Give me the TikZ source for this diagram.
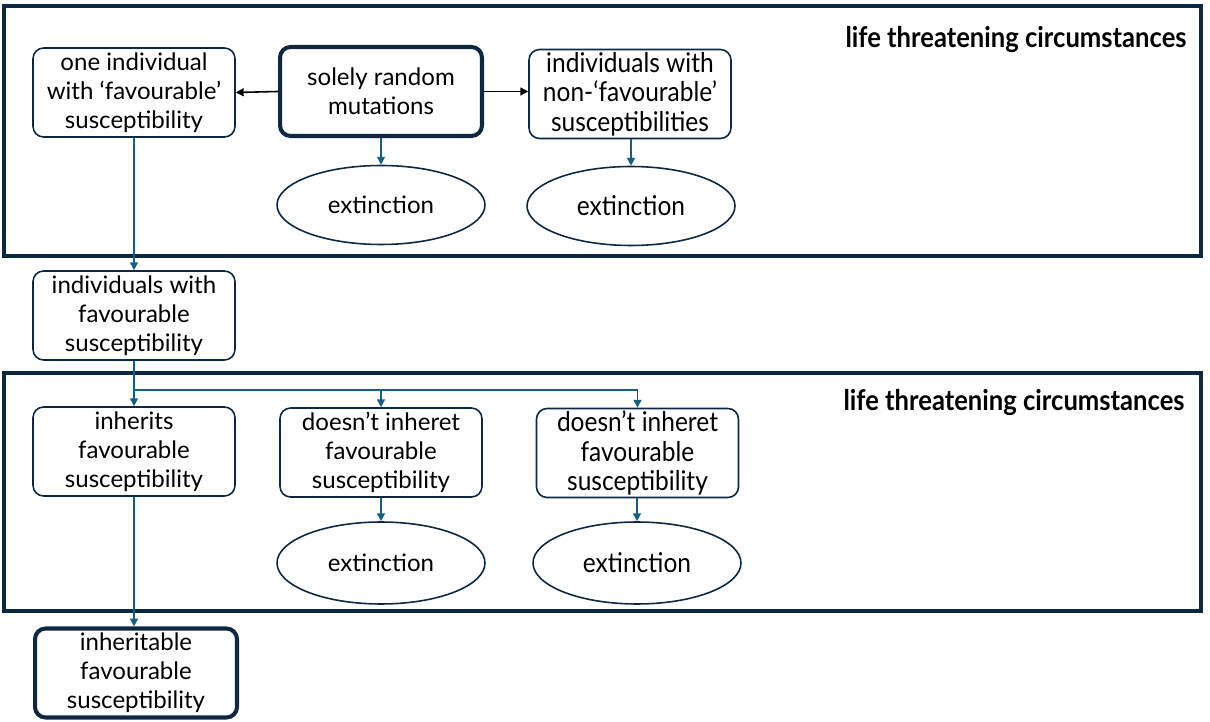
\documentclass[tikz,border=0pt]{standalone}
\usepackage{fontspec}
\setmainfont{Lato}
\newfontfamily\narrowfont[FakeStretch=0.9]{Lato}
\usetikzlibrary{arrows.meta,shapes.geometric}
\definecolor{navy}{HTML}{0E2841}
\definecolor{arrowblue}{HTML}{156082}
\tikzset{
  txt/.style={font=\fontsize{13.7}{16.5}\selectfont},
  ntxt/.style={font=\narrowfont\fontsize{15.5}{16.7}\selectfont},
  rbox/.style={draw=navy, line width=0.9pt, rounded corners=6pt, minimum width=4.04cm, minimum height=1.78cm, align=center, inner sep=0pt, text=black},
  rboxthick/.style={rbox, line width=2.3pt},
  oval/.style={draw=navy, line width=0.9pt, ellipse, minimum width=4.16cm, minimum height=1.58cm, inner sep=0pt, text=black},
  frame/.style={draw=navy, line width=2.4pt},
  blk/.style={draw=black, line width=0.9pt, -{Triangle[length=4.5pt,width=4.5pt]}},
  bl/.style={draw=arrowblue, line width=0.9pt, -{Triangle[length=4.5pt,width=4.5pt]}},
  lbl/.style={font=\narrowfont\bfseries\fontsize{16.2}{18}\selectfont, anchor=east, inner sep=0pt}
}
\begin{document}
\begin{tikzpicture}[x=0.02cm,y=-0.02cm]
\useasboundingbox (0,0) rectangle (1210,722);
\fill[white] (0,0) rectangle (1210,722);
% frames
\draw[frame] (4,6) rectangle (1201,256);
\draw[frame] (4,373) rectangle (1201,611);
\node[lbl] (L1) at (1187,40) {life threatening circumstances};
\node[lbl] (L2) at (1185,402) {life threatening circumstances};
% top section
\node[rbox, txt] (A) at (134,92.5) {one individual\\with ‘favourable’\\susceptibility};
\node[rboxthick, txt] (B) at (381,91.5) {solely random\\mutations};
\node[rbox, ntxt] (C) at (630,94) {individuals with\\non-‘favourable’\\susceptibilities};
\node[oval, txt] (E1) at (381,205) {extinction};
\node[oval, ntxt] (E2) at (631,206) {extinction};
% middle
\node[rbox, txt] (D) at (134,315.5) {individuals with\\favourable\\susceptibility};
% bottom section
\node[rbox, txt] (F) at (134,451.5) {inherits\\favourable\\susceptibility};
\node[rbox, txt] (G) at (381,452.5) {doesn’t inheret\\favourable\\susceptibility};
\node[rbox, ntxt] (H) at (637.5,453) {doesn’t inheret\\favourable\\susceptibility};
\node[oval, txt, minimum height=1.64cm] (E3) at (381,563) {extinction};
\node[oval, ntxt, minimum height=1.64cm] (E4) at (637,563) {extinction};
\node[rboxthick, txt] (I) at (136,673) {inheritable\\favourable\\susceptibility};
% connectors
\draw[blk] (B.west) -- (A.east);
\draw[blk] (B.east) -- (B.east -| C.west);
\draw[bl] (B.south) -- (E1.north);
\draw[bl] (C.south -| E2.north) -- (E2.north);
\draw[bl] (A.south) -- (D.north);
\coordinate (J) at (134,390);
\draw[bl] (D.south) -- (F.north);
\draw[bl] (J) -| (G.north);
\draw[bl] (J) -| (H.north);
\draw[bl] (G.south) -- (E3.north);
\draw[bl] (H.south -| E4.north) -- (E4.north);
\draw[bl] (F.south) -- (F.south |- I.north);
\end{tikzpicture}
\end{document}
